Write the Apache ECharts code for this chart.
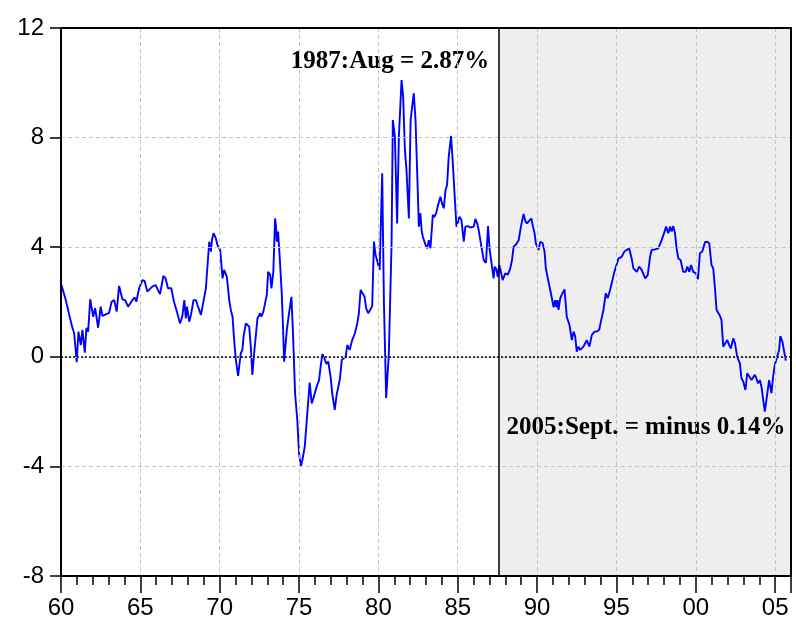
<!DOCTYPE html>
<html>
<head>
<meta charset="utf-8">
<script src="https://cdn.jsdelivr.net/npm/echarts@6/dist/echarts.min.js"></script>
<style>
html,body{margin:0;padding:0;background:#fff;}
#chart{width:796px;height:621px;}
</style>
</head>
<body>
<div id="chart"></div>
<script>
// decimal years
const years = [
1960.03,1960.30,1960.52,1960.72,1960.83,1960.99,1961.10,1961.25,1961.35,1961.50,1961.60,1961.71,1961.84,
1962.03,1962.15,1962.34,1962.50,1962.61,1963.03,1963.19,1963.35,1963.51,1963.66,1963.87,
1964.04,1964.23,1964.50,1964.64,1964.75,1964.92,1965.13,1965.27,1965.44,1965.75,1965.96,
1966.07,1966.24,1966.45,1966.59,1966.74,1966.84,1966.95,1967.12,1967.33,1967.50,1967.64,
1967.77,1967.87,1967.94,1968.08,1968.19,1968.35,1968.50,1968.60,1968.82,1968.92,
1969.13,1969.23,1969.34,1969.45,1969.51,1969.61,1969.76,1969.86,1970.03,1970.18,1970.28,
1970.45,1970.60,1970.70,1970.81,1970.91,1971.02,1971.16,1971.33,1971.43,1971.50,1971.65,
1971.75,1971.86,1971.96,1972.06,1972.17,1972.28,1972.38,1972.55,1972.63,1972.75,1972.84,
1972.97,1973.05,1973.18,1973.26,1973.38,1973.49,1973.55,1973.60,1973.68,1973.81,1973.91,
1973.99,1974.06,1974.16,1974.23,1974.37,1974.52,1974.62,1974.75,1974.89,1975.00,1975.11,
1975.21,1975.36,1975.52,1975.67,1975.80,1975.90,1976.01,1976.11,1976.26,1976.36,1976.47,
1976.62,1976.72,1976.84,1976.99,1977.09,1977.25,1977.37,1977.47,1977.58,1977.69,1977.79,
1977.94,1978.04,1978.19,1978.35,1978.52,1978.67,1978.77,1978.88,1978.98,1979.13,1979.23,
1979.36,1979.47,1979.61,1979.72,1979.82,1979.92,1980.08,1980.24,1980.35,1980.49,1980.66,
1980.83,1980.91,1981.04,1981.18,1981.29,1981.46,1981.56,1981.67,1981.77,1981.92,1982.03,
1982.13,1982.23,1982.34,1982.44,1982.55,1982.65,1982.72,1982.80,1982.97,1983.07,1983.18,
1983.28,1983.43,1983.52,1983.64,1983.76,1983.91,1984.01,1984.12,1984.23,1984.33,1984.43,
1984.58,1984.69,1984.81,1984.92,1985.02,1985.11,1985.23,1985.38,1985.48,1985.65,1985.80,
1985.90,1986.01,1986.11,1986.21,1986.32,1986.49,1986.64,1986.78,1986.91,1987.01,1987.16,
1987.26,1987.33,1987.43,1987.52,1987.62,1987.72,1987.83,1988.00,1988.16,1988.31,1988.42,
1988.52,1988.67,1988.84,1988.98,1989.15,1989.26,1989.36,1989.47,1989.64,1989.74,1989.84,
1989.92,1990.09,1990.20,1990.35,1990.47,1990.55,1990.72,1990.87,1991.04,1991.14,1991.21,
1991.29,1991.35,1991.46,1991.60,1991.73,1991.87,1992.04,1992.19,1992.30,1992.40,1992.50,
1992.61,1992.72,1992.92,1993.13,1993.30,1993.45,1993.62,1993.76,1993.91,1994.04,1994.18,
1994.33,1994.45,1994.60,1994.75,1994.87,1994.98,1995.13,1995.23,1995.33,1995.50,1995.65,
1995.80,1995.96,1996.07,1996.28,1996.43,1996.59,1996.81,1996.97,1997.12,1997.22,1997.43,
1997.64,1997.85,1998.02,1998.13,1998.27,1998.38,1998.48,1998.58,1998.69,1998.79,1998.90,
1999.04,1999.21,1999.36,1999.47,1999.59,1999.70,1999.84,2000.01,2000.14,2000.26,2000.41,
2000.58,2000.72,2000.85,2000.99,2001.10,2001.21,2001.31,2001.42,2001.52,2001.62,2001.73,
2001.84,2001.98,2002.11,2002.21,2002.36,2002.47,2002.61,2002.69,2002.78,2002.88,2002.99,
2003.13,2003.24,2003.36,2003.51,2003.62,2003.72,2003.82,2003.93,2004.04,2004.14,2004.25,
2004.35,2004.45,2004.62,2004.77,2004.87,2004.98,2005.08,2005.19,2005.25,2005.33,2005.46,
2005.67
];
// spread between the two rates, percent
const values = [
2.62,2.07,1.53,1.05,0.87,-0.20,0.92,0.43,0.98,0.15,1.05,0.92,2.10,
1.46,1.78,1.06,1.83,1.49,1.60,2.01,2.07,1.65,2.58,2.10,
2.07,1.83,2.07,2.17,2.01,2.50,2.80,2.77,2.38,2.56,2.62,
2.68,2.29,2.95,2.86,2.50,2.44,2.50,2.01,1.59,1.22,1.46,
2.07,1.40,1.83,1.28,1.53,2.07,2.07,1.89,1.53,1.59,
2.50,2.56,4.20,3.84,4.26,4.51,4.32,4.08,3.90,2.86,3.17,
2.92,2.07,1.71,1.46,0.61,-0.12,-0.70,0.13,0.25,0.73,1.22,
1.28,1.10,0.37,-0.66,0.13,0.80,1.40,1.59,1.46,1.65,1.65,
2.26,3.10,2.99,2.50,3.10,5.05,4.75,4.20,4.57,3.35,2.32,
1.10,-0.18,-0.24,0.98,1.59,2.19,0.86,-1.33,-2.31,-3.52,-4.01,
-3.77,-3.28,-2.06,-0.94,-1.70,-1.52,-1.55,-1.09,-0.85,-0.36,0.10,
-0.09,-0.26,-0.18,-0.73,-1.33,-1.94,-1.39,-1.43,-0.79,-0.12,-0.12,
0.00,0.43,0.25,0.61,0.86,1.22,1.59,2.44,2.44,2.19,1.77,
1.59,1.53,1.85,4.20,3.72,3.78,3.17,6.70,1.95,-1.50,0.13,
4.14,8.64,8.03,4.87,8.03,10.10,9.49,7.55,6.82,5.05,8.64,
9.13,9.62,8.64,6.82,4.75,5.24,4.63,4.38,4.08,3.96,4.26,
3.96,5.18,5.10,5.24,5.54,5.84,5.60,5.42,6.09,6.27,7.30,
8.06,7.06,5.84,4.75,4.70,5.11,5.00,4.20,4.75,4.77,4.72,
4.77,4.75,5.03,4.90,4.63,4.02,3.53,3.43,4.77,3.90,3.29,
2.86,3.29,3.20,2.92,3.35,3.10,2.80,3.05,3.00,3.23,3.53,
4.02,4.10,4.25,4.75,5.21,4.95,4.87,4.80,5.05,4.75,4.51,
4.14,3.90,4.20,4.15,3.84,3.23,2.74,2.32,1.81,2.07,1.81,
2.07,1.71,2.14,2.32,2.46,1.46,1.16,0.61,0.92,0.75,0.19,
0.37,0.25,0.37,0.61,0.37,0.80,0.92,0.92,0.98,1.34,1.71,
2.32,2.14,2.44,2.80,3.10,3.10,3.59,3.53,3.65,3.84,3.90,
3.96,3.59,3.23,3.10,3.29,3.17,2.86,2.98,3.65,3.90,3.92,
3.96,4.26,4.55,4.75,4.51,4.75,4.57,4.77,4.51,3.96,3.59,
3.53,3.10,3.10,3.29,3.10,3.35,3.10,3.05,2.83,3.78,3.84,
4.18,4.20,4.14,3.35,3.23,2.50,1.71,1.60,1.50,1.34,0.37,
0.35,0.61,0.43,0.30,0.67,0.50,0.00,0.00,-0.24,-0.79,-0.90,
-1.21,-0.60,-0.54,-0.85,-0.79,-0.66,-0.79,-0.97,-0.85,-1.09,-1.58,
-2.00,-1.58,-0.85,-1.33,-0.73,-0.30,-0.09,-0.05,0.25,0.76,0.55,
-0.14
];
const shadeStart = 1987.58;   // 1987:Aug
const xMin = 1960, xMax = 2006;
const yTicks = [-8, -4, 0, 4, 8, 12];
const note1 = '1987:Aug = 2.87%';
const note2 = '2005:Sept. = minus 0.14%';

const data = years.map((y, i) => [y, values[i]]);
const chart = echarts.init(document.getElementById('chart'), null, {renderer: 'canvas'});
const noteFont = {fontFamily: '"Liberation Serif","Times New Roman",serif', fontWeight: 'bold', fontSize: 25, fill: '#000'};
const labelFont = '"Liberation Sans",Arial,sans-serif';
const frameAxis = {axisLine: {show: true, onZero: false, lineStyle: {color: '#000', width: 2}},
  axisTick: {show: false}, axisLabel: {show: false}, splitLine: {show: false}};
chart.setOption({
  animation: false,
  backgroundColor: '#fff',
  grid: {left: 61, right: 5, top: 28, bottom: 45},
  xAxis: [{
    type: 'value', min: xMin, max: xMax, interval: 5,
    axisLine: {show: true, onZero: false, lineStyle: {color: '#000', width: 2}},
    axisTick: {show: true, length: 17, lineStyle: {color: '#000', width: 1.5}},
    minorTick: {show: true, splitNumber: 5, length: 9, lineStyle: {color: '#000', width: 1.5}},
    axisLabel: {margin: 20, color: '#000', fontSize: 24, fontFamily: labelFont,
      formatter: v => String(Math.round(v) % 100).padStart(2, '0')},
    splitLine: {show: true, lineStyle: {color: '#c4c4c4', type: [4, 3], width: 1}},
    z: 5
  }, Object.assign({type: 'value', position: 'top', min: xMin, max: xMax, z: 5}, frameAxis)],
  yAxis: [{
    type: 'value', min: yTicks[0], max: yTicks[yTicks.length - 1], interval: 4,
    axisLine: {show: true, onZero: false, lineStyle: {color: '#000', width: 2}},
    axisTick: {show: true, length: 11, lineStyle: {color: '#000', width: 1.5}},
    axisLabel: {margin: 17, color: '#000', fontSize: 24, fontFamily: labelFont},
    splitLine: {show: true, lineStyle: {color: '#c4c4c4', type: [4, 3], width: 1}},
    z: 5
  }, Object.assign({type: 'value', position: 'right', min: yTicks[0], max: yTicks[yTicks.length - 1], z: 5}, frameAxis)],
  series: [{
    type: 'line', data: data, showSymbol: false, symbol: 'none',
    lineStyle: {color: '#0000ff', width: 1.9}, z: 3,
    markArea: {silent: true, itemStyle: {color: 'rgba(0,0,0,0.065)'},
      data: [[{xAxis: shadeStart}, {xAxis: xMax}]]},
    markLine: {silent: true, symbol: 'none', label: {show: false}, animation: false,
      data: [
        {xAxis: shadeStart, lineStyle: {color: '#000', width: 1.5, type: 'solid'}},
        {yAxis: 0, lineStyle: {color: '#000', width: 1.5, type: [2, 2]}}
      ]}
  }],
  graphic: [
    {type: 'text', x: 390, y: 62, style: Object.assign({text: note1, textAlign: 'center', textVerticalAlign: 'middle'}, noteFont)},
    {type: 'text', x: 646, y: 428, style: Object.assign({text: note2, textAlign: 'center', textVerticalAlign: 'middle'}, noteFont)}
  ]
});
</script>
</body>
</html>
